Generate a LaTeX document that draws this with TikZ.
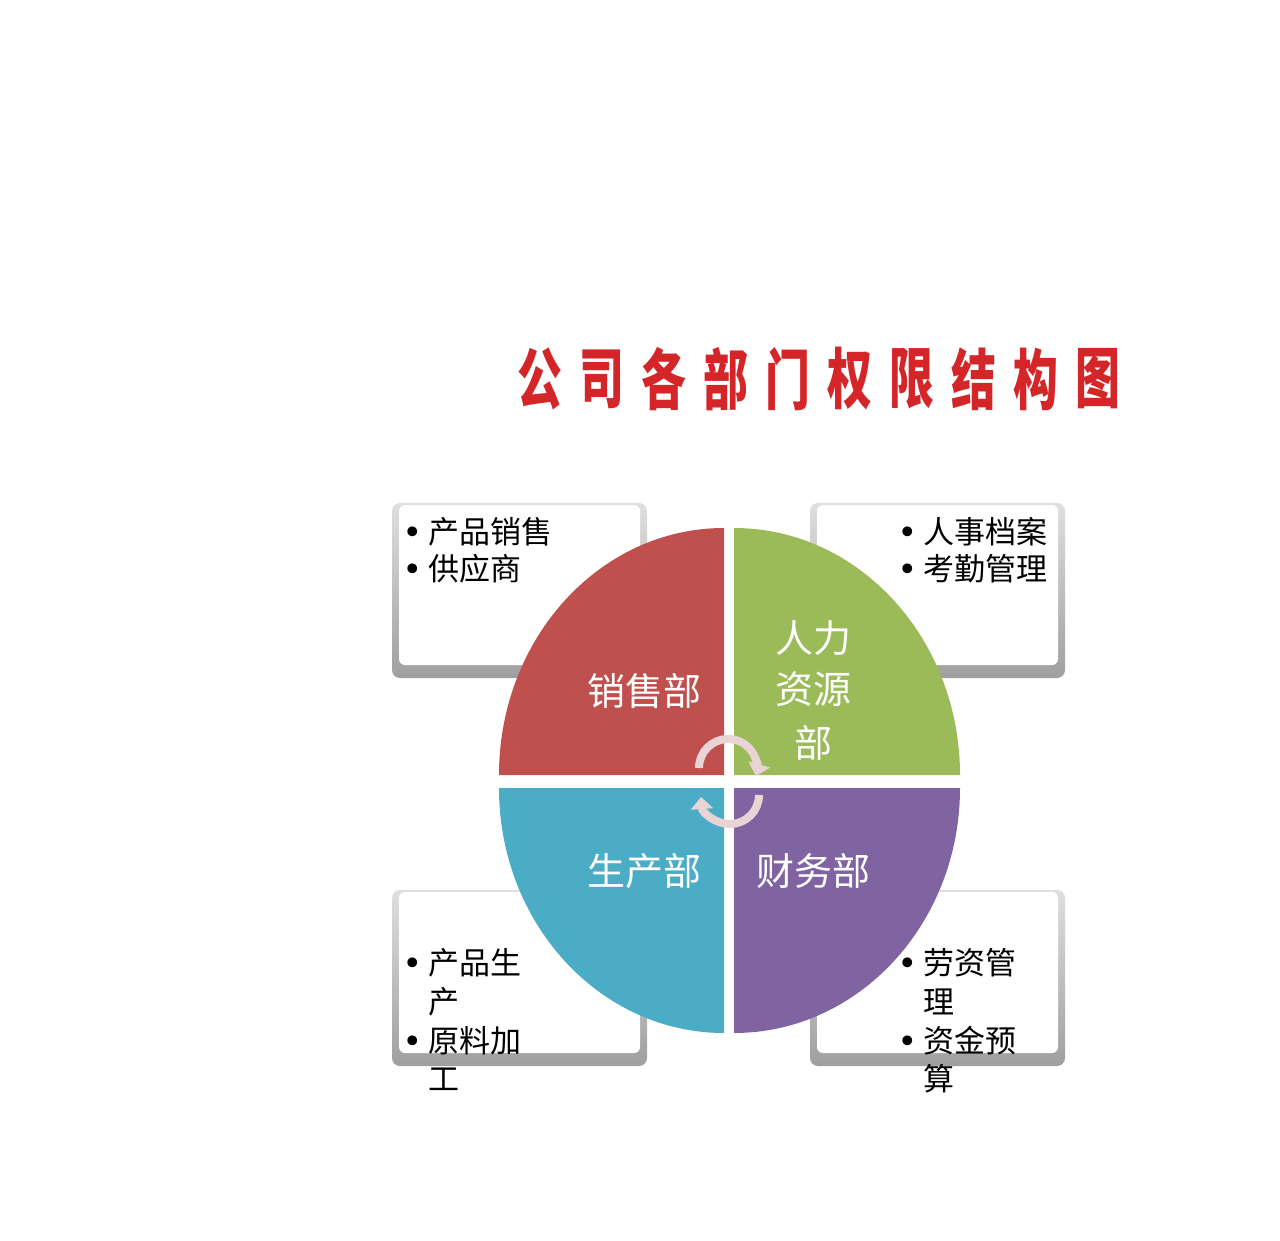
\documentclass[tikz,border=0pt]{standalone}
\usepackage{fontspec}
\newfontfamily\cjk{Noto Sans CJK SC}
\usetikzlibrary{arrows.meta}
\definecolor{redq}{RGB}{192,80,77}
\definecolor{greenq}{RGB}{155,187,89}
\definecolor{blueq}{RGB}{75,172,198}
\definecolor{purpleq}{RGB}{128,100,162}
\definecolor{arrowc}{RGB}{232,212,212}
\definecolor{titlered}{RGB}{212,38,40}
\tikzset{
  boxouter/.style={rounded corners=8pt, top color=gray!25, bottom color=gray!75},
  boxinner/.style={rounded corners=6pt, fill=white},
  titlechar/.style={inner sep=0pt, text=titlered, font=\cjk\bfseries\fontsize{66}{70}\selectfont},
  qlabel/.style={inner sep=0pt, text=white, font=\cjk\fontsize{38}{40}\selectfont},
  itemtext/.style={inner sep=0pt, anchor=base west, font=\cjk\fontsize{31}{36}\selectfont},
  cyclearrow/.style={draw=arrowc, line width=8pt, -{Triangle[width=22pt,length=12pt]}}
}
\newcommand{\bul}{\makebox[20pt]{\smash{\raisebox{-6pt}{\scalebox{1.5}{•}}}}\hspace{5pt}}
\begin{document}
\begin{tikzpicture}[x=1pt,y=-1pt]
\useasboundingbox[fill=white] (0,0) rectangle (1280,1241);

% title
\foreach \ch [count=\i from 0] in {公,司,各,部,门,权,限,结,构,图}{
  \node[titlechar] (t\i) at ({540+62*\i},379) {\scalebox{0.68}[1]{\ch}};
}

% boxes
\path[boxouter] (392,503) rectangle (647,678);
\path[boxinner] (399,505) rectangle (640,665);
\path[boxouter] (810,503) rectangle (1065,678);
\path[boxinner] (817,505) rectangle (1058,665);
\path[boxouter] (392,890) rectangle (647,1066);
\path[boxinner] (399,892) rectangle (640,1053);
\path[boxouter] (810,890) rectangle (1065,1066);
\path[boxinner] (817,892) rectangle (1058,1053);

% quadrants
\fill[redq] (724,775) -- (499,775) arc[start angle=180, end angle=270, x radius=225, y radius=247] -- cycle;
\fill[greenq] (734,775) -- (734,528) arc[start angle=270, end angle=360, x radius=226, y radius=247] -- cycle;
\fill[purpleq] (734,788) -- (960,788) arc[start angle=0, end angle=90, x radius=226, y radius=245] -- cycle;
\fill[blueq] (724,788) -- (724,1033) arc[start angle=90, end angle=180, x radius=225, y radius=245] -- cycle;

% quadrant labels
\node[qlabel] (sales) at (644,691) {销售部};
\node[qlabel] (hr1) at (813,638) {人力};
\node[qlabel] (hr2) at (813,689) {资源};
\node[qlabel] (hr3) at (813,743) {部};
\node[qlabel] (prod) at (644,871) {生产部};
\node[qlabel] (fin) at (813,871) {财务部};

% cycle arrows
\coordinate (ua) at (699,768);
\coordinate (la) at (759,795);
\draw[cyclearrow] (ua) arc[start angle=180, end angle=376, radius=29];
\draw[cyclearrow] (la) arc[start angle=0, end angle=176, radius=29];

% box texts: top left
\node[itemtext] (l1) at (403,543) {\bul 产品销售};
\node[itemtext] (l2) at (403,580) {\bul 供应商};
% top right
\node[itemtext] (l3) at (898,543) {\bul 人事档案};
\node[itemtext] (l4) at (898,580) {\bul 考勤管理};
% bottom left
\node[itemtext] (l5) at (403,974) {\bul 产品生};
\node[itemtext] (l6) at (428,1013) {产};
\node[itemtext] (l7) at (403,1052) {\bul 原料加};
\node[itemtext] (l8) at (428,1090) {工};
% bottom right
\node[itemtext] (l9) at (898,974) {\bul 劳资管};
\node[itemtext] (l10) at (923,1013) {理};
\node[itemtext] (l11) at (898,1052) {\bul 资金预};
\node[itemtext] (l12) at (923,1090) {算};
\end{tikzpicture}
\end{document}
